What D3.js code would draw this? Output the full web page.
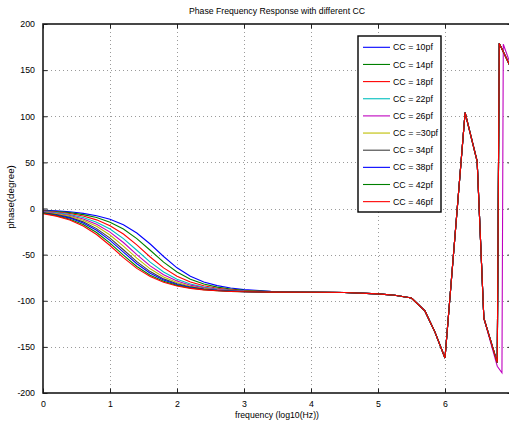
<!DOCTYPE html>
<html>
<head>
<meta charset="utf-8">
<script src="https://cdn.jsdelivr.net/npm/d3@7/dist/d3.min.js"></script>
<style>
  body { margin: 0; background: #fff; }
  text { font-family: "Liberation Sans", Arial, Helvetica, sans-serif; fill: #000; }
</style>
</head>
<body>
<div id="chart"></div>
<script>
// series labels (as in the legend, typo included)
var ccLabels = ["CC = 10pf", "CC = 14pf", "CC = 18pf", "CC = 22pf", "CC = 26pf",
                "CC = =30pf", "CC = 34pf", "CC = 38pf", "CC = 42pf", "CC = 46pf"];

// low frequency part, log10(Hz)
var freqLow = [0, 0.2, 0.4, 0.6, 0.8, 1.0, 1.2, 1.4, 1.6, 1.8, 2.0, 2.2, 2.4, 2.6, 2.8, 3.0, 3.4, 4.0];

var phaseCC10 = [-2.0, -2.6, -3.6, -5.3, -7.8, -11.6, -17.6, -26.6, -38.5, -52.0, -64.3, -73.5, -79.6, -83.6, -86.2, -87.9, -89.7, -90.5];
var phaseCC14 = [-2.4, -3.2, -4.5, -6.6, -9.8, -14.8, -22.3, -32.7, -45.3, -58.2, -68.8, -76.6, -81.8, -85.2, -87.3, -88.7, -90.1, -90.6];
var phaseCC18 = [-2.8, -3.9, -5.5, -8.2, -12.3, -18.6, -27.6, -39.5, -52.6, -64.4, -73.5, -79.7, -83.8, -86.5, -88.1, -89.2, -90.3, -90.6];
var phaseCC22 = [-3.2, -4.5, -6.6, -9.8, -14.8, -22.3, -32.7, -45.3, -58.2, -68.8, -76.6, -81.8, -85.2, -87.3, -88.7, -89.5, -90.4, -90.7];
var phaseCC26 = [-3.6, -5.1, -7.6, -11.3, -17.1, -25.6, -36.9, -50.0, -62.2, -71.9, -78.7, -83.1, -86.0, -87.9, -89.0, -89.8, -90.5, -90.7];
var phaseCC30 = [-4.0, -5.8, -8.5, -12.8, -19.3, -28.7, -40.8, -53.8, -65.4, -74.2, -80.2, -84.2, -86.7, -88.3, -89.3, -89.9, -90.6, -90.7];
var phaseCC34 = [-4.5, -6.5, -9.6, -14.5, -21.8, -32.1, -44.7, -57.6, -68.4, -76.3, -81.6, -85.0, -87.2, -88.6, -89.5, -90.1, -90.6, -90.8];
var phaseCC38 = [-4.8, -7.0, -10.4, -15.7, -23.6, -34.5, -47.3, -59.9, -70.2, -77.5, -82.4, -85.6, -87.6, -88.8, -89.6, -90.1, -90.7, -90.8];
var phaseCC42 = [-5.2, -7.7, -11.6, -17.4, -26.1, -37.6, -50.6, -62.8, -72.3, -78.9, -83.3, -86.1, -87.9, -89.1, -89.8, -90.2, -90.7, -90.8];
var phaseCC46 = [-5.7, -8.3, -12.5, -18.9, -28.2, -40.1, -53.2, -64.9, -73.8, -80.0, -84.0, -86.6, -88.2, -89.2, -89.9, -90.3, -90.7, -90.8];

// high frequency part, almost the same for every CC
var freqHigh  = [4.5, 5.0, 5.25, 5.5, 5.7, 5.85, 6.0, 6.3, 6.48, 6.58, 6.78, 6.81, 7.0];
var phaseHigh = [-91, -92.5, -94, -97, -111, -134, -162, 104, 51, -119, -167, 179, 150];
// CC = 26pf wraps a little later
var freqHighCC26  = [4.5, 5.0, 5.25, 5.5, 5.7, 5.85, 6.0, 6.3, 6.48, 6.58, 6.78, 6.85, 6.87, 7.0];
var phaseHighCC26 = [-91, -92.5, -94, -97, -111, -134, -162, 104, 51, -119, -171, -178, 178, 152];

var xTicks = [0, 1, 2, 3, 4, 5, 6, 7];
var yTicks = [-200, -150, -100, -50, 0, 50, 100, 150, 200];

var colors = ["#0000ff", "#008000", "#ff0000", "#00bfbf", "#bf00bf", "#bfbf00", "#404040", "#0000ff", "#008000", "#ff0000"];

var lowSets = [phaseCC10, phaseCC14, phaseCC18, phaseCC22, phaseCC26, phaseCC30, phaseCC34, phaseCC38, phaseCC42, phaseCC46];

var series = lowSets.map(function(low, i) {
    var hf = i === 4 ? freqHighCC26 : freqHigh;
    var hp = i === 4 ? phaseHighCC26 : phaseHigh;
    var pts = freqLow.map(function(f, j) { return [f, low[j]]; });
    hf.forEach(function(f, j) { pts.push([f, hp[j]]); });
    return { label: ccLabels[i], color: colors[i], points: pts };
});

var width = 509, height = 429;
var plot = { left: 43, right: 512, top: 24, bottom: 393 };

var x = d3.scaleLinear().domain([0, 7]).range([plot.left, plot.right]);
var y = d3.scaleLinear().domain([-200, 200]).range([plot.bottom, plot.top]);

var svg = d3.select("#chart").append("svg")
    .attr("width", width)
    .attr("height", height)
    .style("display", "block");

svg.append("rect").attr("width", width).attr("height", height).attr("fill", "#fff");

svg.append("clipPath").attr("id", "clip")
  .append("rect")
    .attr("x", plot.left).attr("y", plot.top)
    .attr("width", plot.right - plot.left).attr("height", plot.bottom - plot.top);

// dotted grid
var grid = svg.append("g").attr("stroke", "#9a9a9a").attr("stroke-width", 1).attr("stroke-dasharray", "1,3");
grid.selectAll(".gx").data(xTicks.slice(1)).enter().append("line")
    .attr("x1", d => Math.round(x(d)) + 0.5).attr("x2", d => Math.round(x(d)) + 0.5)
    .attr("y1", plot.top).attr("y2", plot.bottom);
grid.selectAll(".gy").data(yTicks.slice(1, -1)).enter().append("line")
    .attr("y1", d => Math.round(y(d)) + 0.5).attr("y2", d => Math.round(y(d)) + 0.5)
    .attr("x1", plot.left).attr("x2", plot.right);

// lines
var line = d3.line().x(d => x(d[0])).y(d => y(d[1]));
svg.append("g").attr("clip-path", "url(#clip)")
    .selectAll("path").data(series).enter().append("path")
    .attr("d", d => line(d.points))
    .attr("fill", "none")
    .attr("stroke", d => d.color)
    .attr("stroke-width", 1.1);

// axes (ticks inside, on all four sides)
var tickLen = 4.5;
svg.append("g")
    .attr("transform", "translate(0," + plot.bottom + ")")
    .call(d3.axisBottom(x).tickValues(xTicks.slice(0, -1)).tickSize(-tickLen).tickPadding(tickLen + 3.5).tickFormat(d3.format("d")))
    .call(g => g.select(".domain").remove());
svg.append("g")
    .attr("transform", "translate(0," + plot.top + ")")
    .call(d3.axisTop(x).tickValues(xTicks).tickSize(-tickLen).tickFormat(""))
    .call(g => g.select(".domain").remove());
svg.append("g")
    .attr("transform", "translate(" + plot.left + ",0)")
    .call(d3.axisLeft(y).tickValues(yTicks).tickSize(-tickLen).tickPadding(tickLen + 3.5).tickFormat(d => String(d)))
    .call(g => g.select(".domain").remove());
svg.append("g")
    .attr("transform", "translate(" + plot.right + ",0)")
    .call(d3.axisRight(y).tickValues(yTicks).tickSize(-tickLen).tickFormat(""))
    .call(g => g.select(".domain").remove());

svg.selectAll(".tick line").attr("stroke", "#222").attr("stroke-width", 1);
svg.selectAll(".tick text").attr("font-size", "8.8px").attr("font-family", "Liberation Sans, Arial, sans-serif").attr("fill", "#000");

// box
svg.append("rect")
    .attr("x", plot.left).attr("y", plot.top)
    .attr("width", plot.right - plot.left).attr("height", plot.bottom - plot.top)
    .attr("fill", "none").attr("stroke", "#1a1a1a").attr("stroke-width", 1.6);

// title and labels
svg.append("text")
    .attr("x", 277).attr("y", 14)
    .attr("text-anchor", "middle").attr("font-size", "8.7px")
    .text("Phase Frequency Response with different CC");
svg.append("text")
    .attr("x", 277).attr("y", 418)
    .attr("text-anchor", "middle").attr("font-size", "8.7px")
    .text("frequency (log10(Hz))");
svg.append("text")
    .attr("transform", "translate(14,197) rotate(-90)")
    .attr("text-anchor", "middle").attr("font-size", "9.8px")
    .text("phase(degree)");

// legend
var legend = svg.append("g");
legend.append("rect")
    .attr("x", 358).attr("y", 36).attr("width", 83).attr("height", 176)
    .attr("fill", "#fff").attr("stroke", "#000").attr("stroke-width", 1.4);
var rows = legend.selectAll(".row").data(series).enter().append("g")
    .attr("transform", (d, i) => "translate(0," + (47.3 + i * 17.15) + ")");
rows.append("line")
    .attr("x1", 363).attr("x2", 390)
    .attr("stroke", d => d.color).attr("stroke-width", 1.1);
rows.append("text")
    .attr("x", 393).attr("dy", "0.35em")
    .attr("font-size", "8.8px")
    .text(d => d.label);
</script>
</body>
</html>
